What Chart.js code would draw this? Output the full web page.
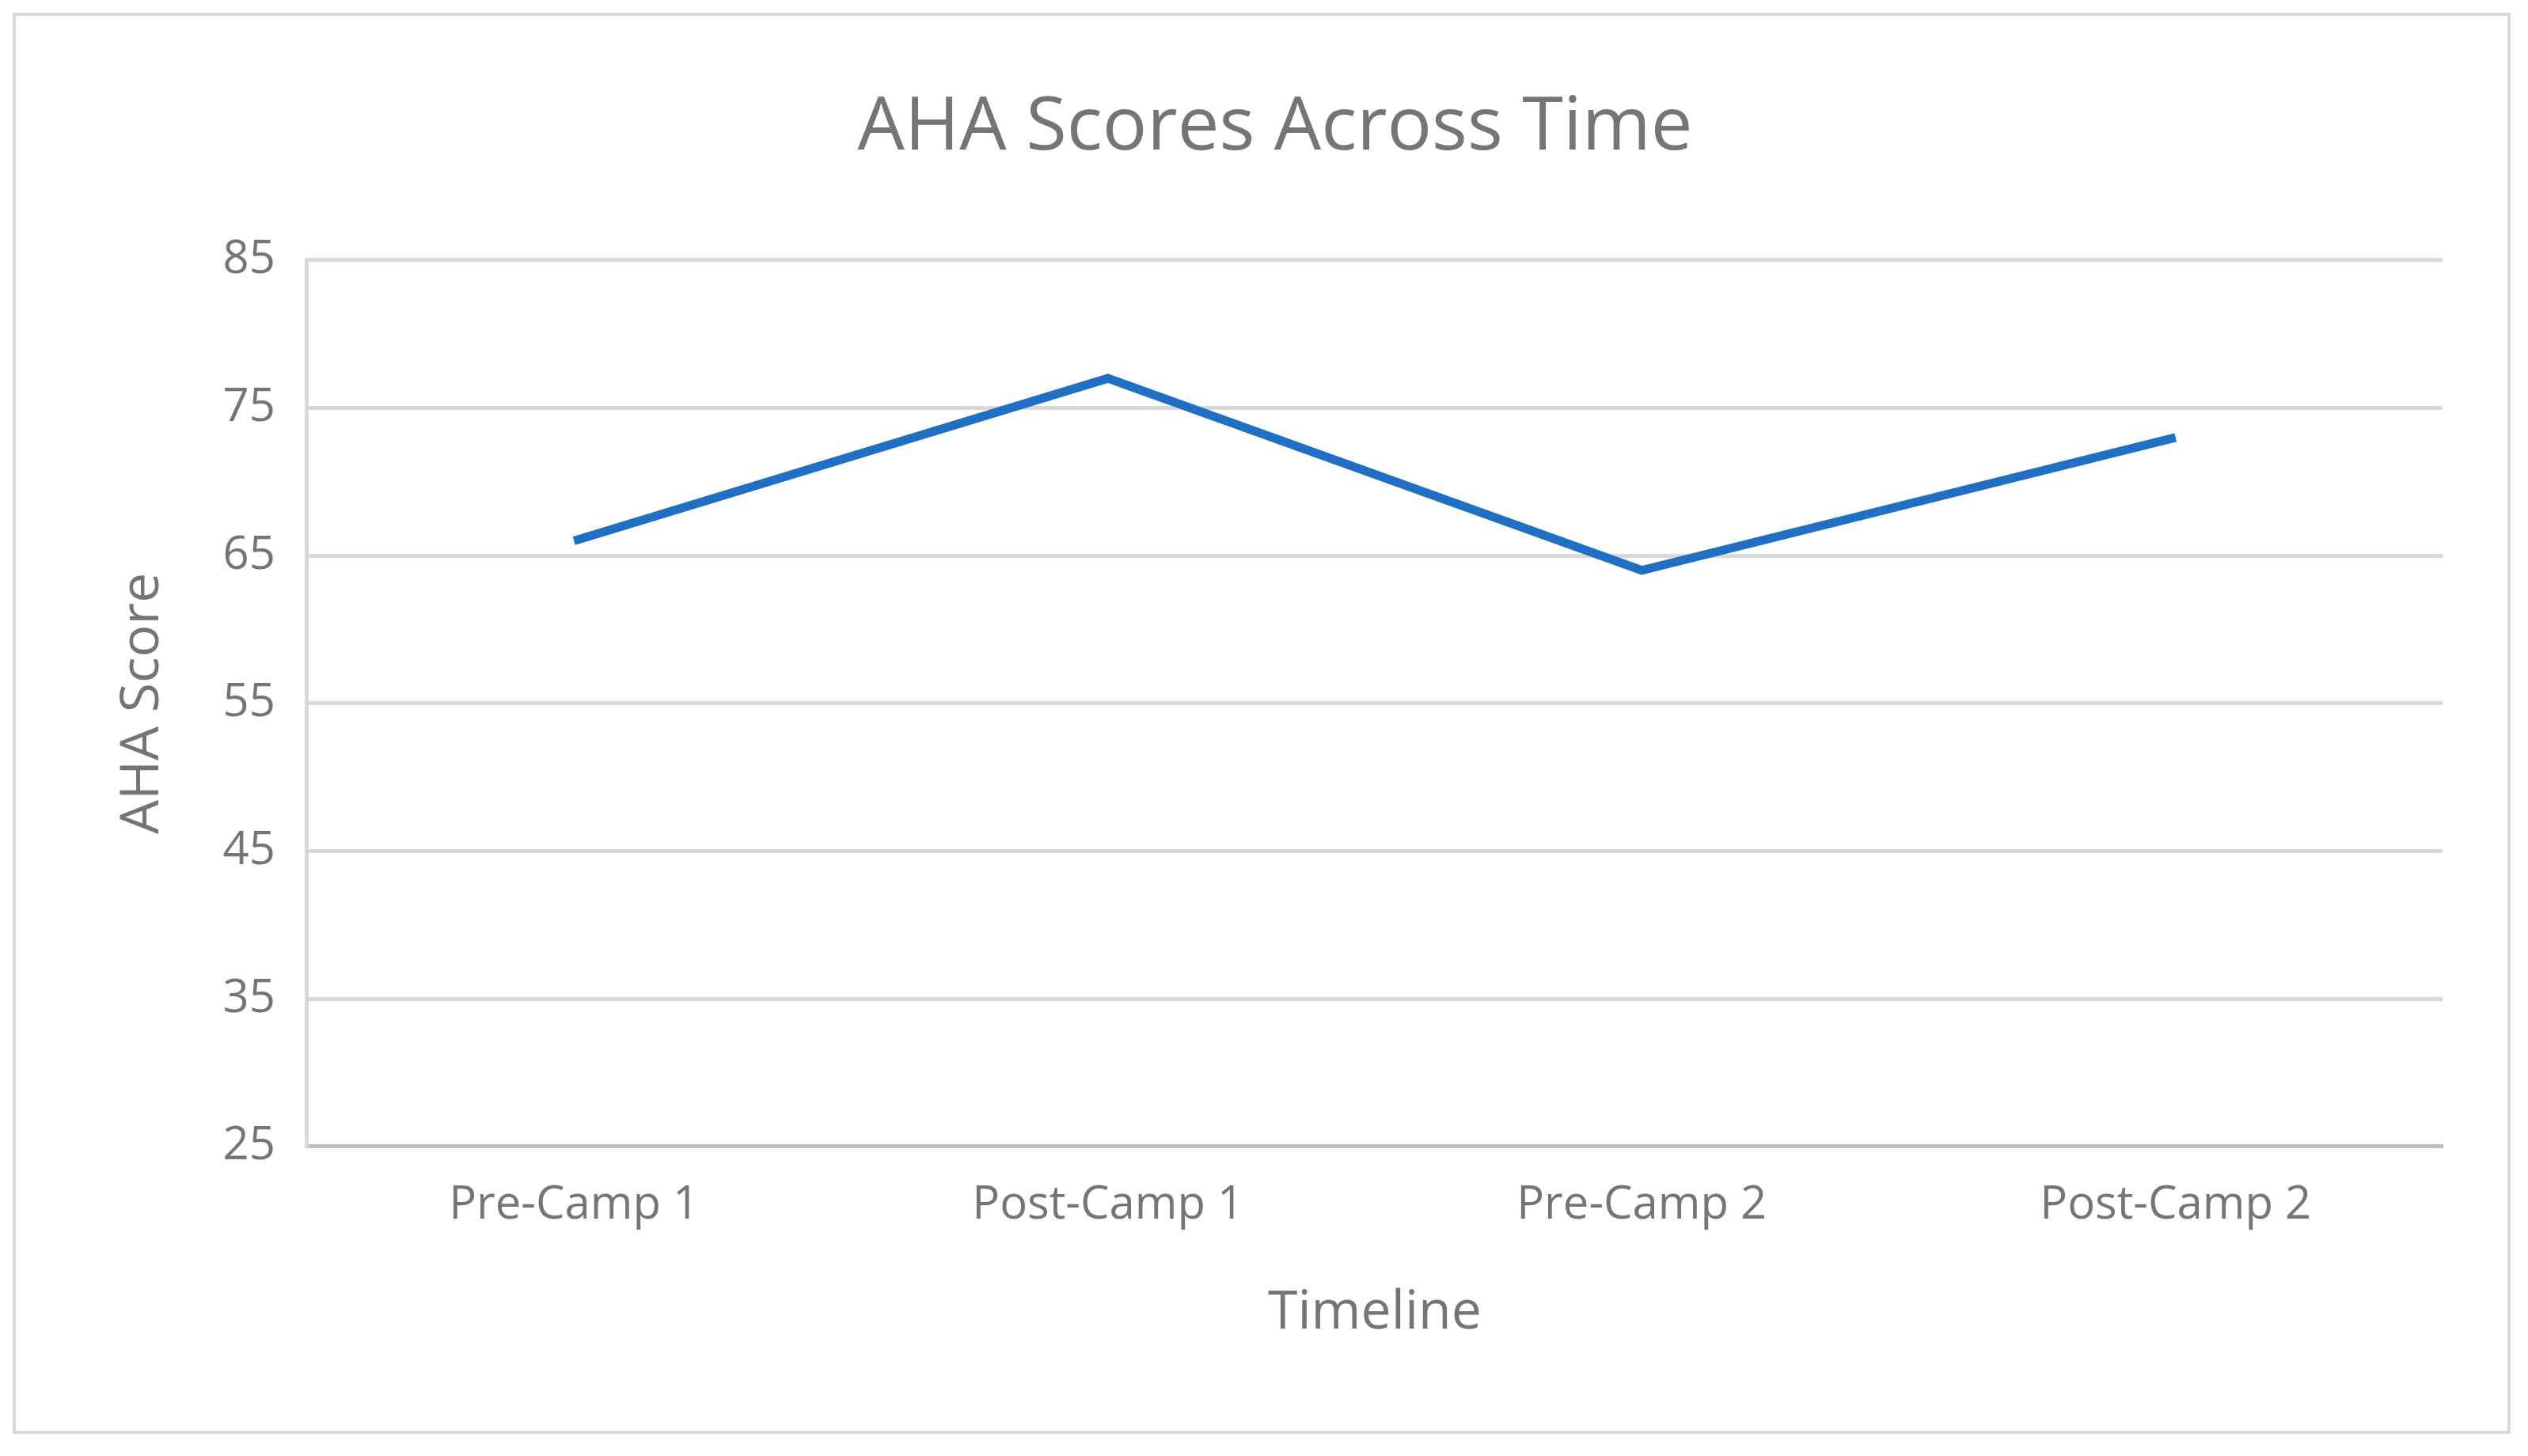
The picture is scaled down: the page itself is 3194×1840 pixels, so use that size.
<!DOCTYPE html>
<html>
<head>
<meta charset="utf-8">
<script src="https://cdn.jsdelivr.net/npm/chart.js@4.4.0/dist/chart.umd.min.js"></script>
<style>
  html, body { margin: 0; padding: 0; background: #fff; }
  #wrap { position: absolute; left: 16px; top: 16px; width: 3156px; height: 1796px; border: 4px solid #d9d9d9; box-sizing: border-box; }
  canvas { position: absolute; left: 0; top: 0; }
</style>
</head>
<body>
<div id="wrap"></div>
<canvas id="chart" width="3194" height="1840"></canvas>
<script>
const timeline = ['Pre-Camp 1', 'Post-Camp 1', 'Pre-Camp 2', 'Post-Camp 2'];
const ahaScores = [66, 77, 64, 73];

const textGrey = '#757575';
const font = "'Open Sans', 'Liberation Sans', sans-serif";

const ctx = document.getElementById('chart').getContext('2d');
new Chart(ctx, {
  type: 'line',
  data: {
    labels: timeline,
    datasets: [{
      label: 'AHA Score',
      data: ahaScores,
      borderColor: '#1f6fc5',
      borderWidth: 11,
      pointRadius: 0,
      tension: 0,
      fill: false
    }]
  },
  options: {
    responsive: false,
    animation: false,
    devicePixelRatio: 1,
    layout: { padding: { left: 136, right: 108, top: 40, bottom: 136 } },
    plugins: {
      legend: { display: false },
      tooltip: { enabled: false },
      title: {
        display: true,
        text: 'AHA Scores Across Time',
        color: textGrey,
        font: { family: font, size: 94, weight: 'normal' },
        padding: { top: 66, bottom: 110 }
      }
    },
    scales: {
      x: {
        offset: true,
        grid: { display: false, drawTicks: false },
        border: { color: '#bfbfbf', width: 5 },
        ticks: { color: textGrey, font: { family: font, size: 58 }, padding: 40 },
        title: { display: true, text: 'Timeline', color: textGrey, font: { family: font, size: 68 }, padding: { top: 20 } }
      },
      y: {
        min: 25,
        max: 85,
        grid: { color: '#d9d9d9', lineWidth: 5, drawTicks: false },
        border: { color: '#d9d9d9', width: 5 },
        ticks: { stepSize: 10, color: textGrey, font: { family: font, size: 58 }, padding: 40 },
        title: { display: true, text: 'AHA Score', color: textGrey, font: { family: font, size: 68 }, padding: { bottom: 20 } }
      }
    }
  }
});
</script>
</body>
</html>
